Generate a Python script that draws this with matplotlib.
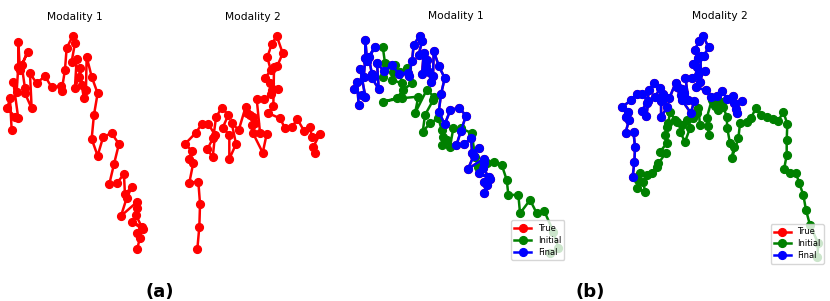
import matplotlib
matplotlib.use("Agg")
import matplotlib.pyplot as plt

# modality 1 true trajectory (image-like units, y grows downward)
true1_x = [11.7, 10, 7.3, 15, 18.3, 13.3, 16.7, 18.3, 18.3, 20, 27.7, 21.7, 25, 25, 31.7,
           30, 36.7, 45, 51.7, 61, 61.7, 65, 66.7, 72.7, 75, 71.7, 76.7, 75, 79.3, 80,
           81.7, 84, 86, 86.7, 91.7, 97.7, 94, 91.7, 97.7, 103.3, 111.7, 119, 114, 109.3, 117.3,
           124, 125, 131.7, 126.7, 121, 136.7, 137.3, 136, 141.7, 132.3, 142.7, 136.7, 140, 137.3]
true1_y = [130, 98.3, 108.3, 116.7, 118.3, 81.7, 91.7, 66.7, 41.7, 70, 51.7, 65, 88.3, 93.3, 108.3,
           73.3, 83.3, 76, 87.3, 86, 90.7, 70, 48.3, 36, 43.3, 61.7, 59.3, 87.7, 76.7, 68.3,
           85, 98.3, 90, 56.7, 76.7, 93.3, 115, 139, 155.7, 136.7, 133.3, 144, 164.3, 184.3, 182.7,
           174, 194, 187.3, 198.3, 216, 202.3, 208.3, 215, 226.7, 222, 229.3, 233.3, 237.7, 249]

# modality 2 true trajectory
true2_x = [197.3, 199.3, 200, 198.3, 189.3, 193.3, 189.3, 191.7, 185, 196, 201.7, 208.3, 215, 212.7, 207.3,
           213.3, 216, 221.7, 228.3, 222.7, 229.3, 229.3, 236, 231.7, 238.7, 245.7, 247.3, 250, 253.3, 255,
           251.7, 252.7, 262.7, 266.7, 260, 256.7, 264, 270.7, 271.7, 278.3, 270, 265, 270.7, 267.3, 271.7,
           276.7, 282.7, 277.3, 274, 273.3, 268.3, 280, 285, 291.7, 297.3, 304, 310, 311.7, 320, 313.3, 315]
true2_y = [249.3, 226.7, 204, 181.7, 182.7, 162.7, 159.3, 150.7, 144, 132.7, 124, 124, 135, 157.3, 149.3,
           137.7, 117.3, 107.7, 115, 127.7, 135, 159, 144, 123.3, 130, 106.7, 113.3, 115, 116.7, 122.7,
           125, 132.7, 152.7, 134, 132.7, 99.3, 99.3, 94.3, 90, 89.3, 83.3, 78.3, 70, 57.3, 44,
           36, 53.3, 66, 66.7, 106, 113.3, 118.3, 128.3, 127.3, 119.3, 130.7, 127.3, 136.7, 134, 146.7, 152.7]

# initial guesses
init1_x = [35.7, 38, 36.3, 39.7, 48, 46.3, 44.7, 54.7, 53, 59.7, 64.7, 56.3, 49.7, 36.3, 54.7,
           71.3, 68, 79.7, 87, 86.3, 78, 75.7, 83, 91.3, 94.7, 96.3, 94.7, 100.3, 103, 106.3,
           114, 124.7, 128, 131.3, 139.7, 147, 154.7, 159.7, 161.3, 171.3, 173, 183, 189.7, 197, 206.3,
           211.3, 203]
init1_y = [50.8, 73.2, 91.4, 75.5, 75.5, 84.6, 95.8, 100.3, 84.6, 80, 100.3, 109.3, 120.5, 125.1, 120.5,
           118.4, 140.8, 109.3, 118.4, 122.8, 143.1, 165.7, 154.3, 147.6, 163.4, 172.4, 183.6, 176.9, 185.9, 161.1,
           161.1, 167.8, 199.5, 213, 208.4, 206.2, 210.7, 231, 251.2, 251.2, 276, 258, 276, 272.4, 300.8,
           323.2, 330]

init2_x = [209.3, 211.2, 202.5, 203.7, 205.6, 213.1, 218.7, 224.4, 226.2, 234.8, 228.1, 235.6, 233.7, 236.3, 237.4,
           239.3, 245, 246.9, 252.5, 250.6, 256.2, 261.8, 258.1, 265.5, 269.4, 271.2, 273.1, 282.4, 283.5, 280.6,
           286.2, 291.9, 290, 293.7, 297.5, 299.3, 303.1, 303.8, 306.8, 311.3, 308.7, 316.2, 318.1, 325.6, 330.4,
           335.7, 341.4, 348.1, 355.5, 361.2, 366.8, 371.3, 370.6, 370.6, 367.6, 374.3, 381.1, 384.8, 389.3, 392.3,
           396.8, 406.1, 405]
init2_y = [256.8, 271.9, 266.8, 254.2, 244, 246.6, 244, 234, 228.9, 212.8, 211.3, 198.6, 186, 173.4, 168.3,
           150.7, 163.3, 165.8, 170.8, 181, 196.2, 175.8, 163.3, 160.7, 153.1, 145.5, 170.8, 172.4, 186, 160.7,
           133, 138, 142, 148.1, 135.5, 143.1, 158.3, 175.8, 198.6, 203.7, 221.3, 191, 168.3, 165.8, 160.7,
           145.5, 155.7, 159.2, 162.2, 164.3, 150.7, 169.3, 193.6, 216.3, 238, 244, 244, 259.2, 276.9, 299.6,
           322.4, 350.1, 370.4]

# recovered trajectories sit on top of the true ones
final1_x, final1_y = true1_x, true1_y
final2_x, final2_y = true2_x, true2_y

titles = ["Modality 1", "Modality 2", "Modality 1", "Modality 2"]


def traj(ax, xs, ys, color, label=None):
    ax.plot(xs, ys, "-o", color=color, lw=1.8, ms=5.6, label=label)


fig = plt.figure(figsize=(8.3, 3.01), dpi=100)
rects = [
    [0.0006, 0.1374, 0.1794, 0.7784],
    [0.2148, 0.1365, 0.1789, 0.7794],
    [0.4146, 0.1226, 0.2704, 0.7950],
    [0.7372, 0.1103, 0.2605, 0.8066],
]
axes = [fig.add_axes(r) for r in rects]

traj(axes[0], true1_x, true1_y, "red")
traj(axes[1], true2_x, true2_y, "red")

for ax, tx, ty, ix, iy, fx, fy in [
    (axes[2], true1_x, true1_y, init1_x, init1_y, final1_x, final1_y),
    (axes[3], true2_x, true2_y, init2_x, init2_y, final2_x, final2_y),
]:
    traj(ax, tx, ty, "red", "True")
    traj(ax, ix, iy, "green", "Initial")
    traj(ax, fx, fy, "blue", "Final")
    ax.legend(loc="lower right", fontsize=6, borderaxespad=0.5, labelspacing=0.35)

for ax, t in zip(axes, titles):
    ax.invert_yaxis()
    ax.set_title(t, fontsize=7.7, pad=4)
    ax.axis("off")

fig.text(160 / 830, 1 - 292 / 301, "(a)", ha="center", va="center", fontsize=13, fontweight="bold")
fig.text(590 / 830, 1 - 292 / 301, "(b)", ha="center", va="center", fontsize=13, fontweight="bold")

fig.savefig("out.png", dpi=100)
